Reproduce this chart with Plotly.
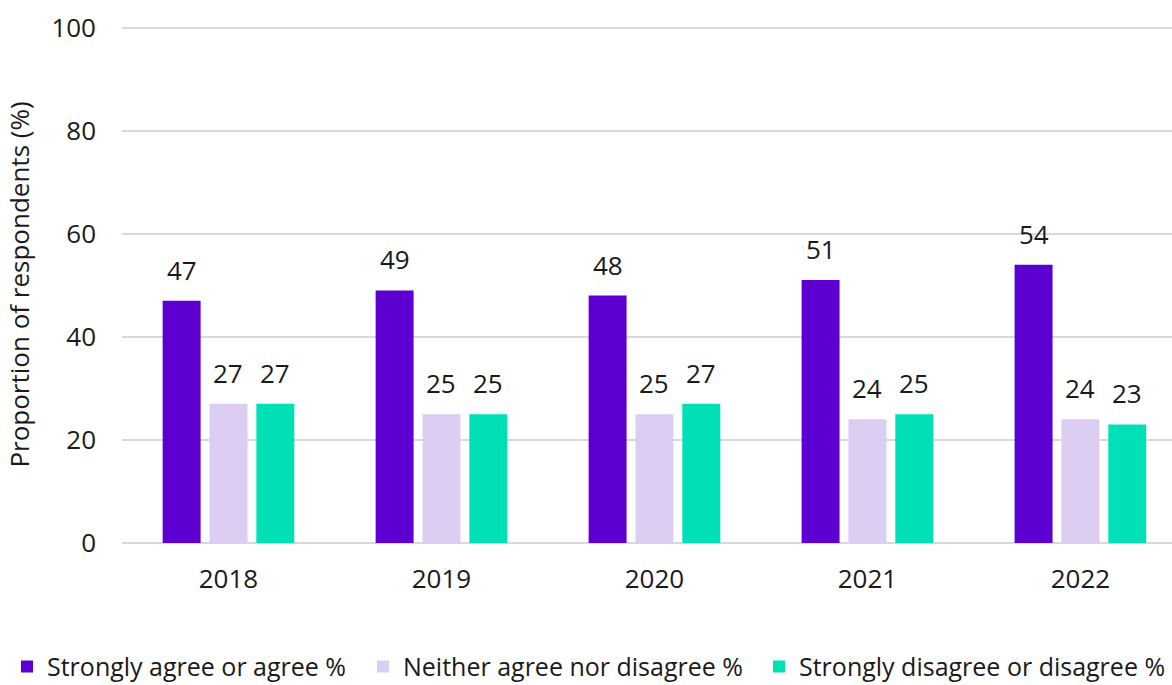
import plotly.graph_objects as go

years = ["2018", "2019", "2020", "2021", "2022"]
agree = [47, 49, 48, 51, 54]
neither = [27, 25, 25, 24, 24]
disagree = [27, 25, 27, 25, 23]

series_names = ["Strongly agree or agree %", "Neither agree nor disagree %", "Strongly disagree or disagree %"]
colors = ["#5c00d2", "#dccdf2", "#00e0b7"]
series = [agree, neither, disagree]

FONT = "Open Sans"
TXT = "#1a1a1a"
bargap = 0.34
groupgap = 0.19
L, R, T, B, W, H = 122, 0, 26, 142, 1172, 685
plot_w = W - L - R

fig = go.Figure()
legend_ids = ["legend", "legend2", "legend3"]
legend_px = [7, 363, 759]
for name, vals, col, lid in zip(series_names, series, colors, legend_ids):
    fig.add_trace(go.Bar(x=years, y=vals, name=name, marker_color=col, marker_line_width=0, legend=lid))

slot = (1 - bargap) / 3
annotations = []
for i, vals in enumerate(series):
    off = (i - 1) * slot
    for j, v in enumerate(vals):
        annotations.append(dict(x=j + off, y=v, xref="x", yref="y", text=str(v), showarrow=False,
                                yanchor="bottom", yshift=11, font=dict(size=26, color=TXT, family=FONT)))

legend_common = dict(orientation="h", xanchor="left", y=-0.195, yanchor="top",
                     font=dict(size=25, family=FONT, color=TXT), bgcolor="rgba(0,0,0,0)")
layout_legends = {}
for lid, px in zip(legend_ids, legend_px):
    layout_legends[lid] = dict(x=(px - L) / plot_w, **legend_common)

fig.update_layout(
    width=W, height=H,
    margin=dict(l=L, r=R, t=T, b=B, autoexpand=False),
    paper_bgcolor="white", plot_bgcolor="white",
    barmode="group", bargap=bargap, bargroupgap=groupgap,
    font=dict(family=FONT, size=26, color=TXT),
    annotations=annotations,
    showlegend=True,
    **layout_legends,
)
fig.update_xaxes(type="category", range=[-0.5, 4.43], showgrid=False, showline=False, ticks="",
                 tickfont=dict(size=26), ticklabelstandoff=18)
fig.update_yaxes(range=[0, 100.3], tickvals=[0, 20, 40, 60, 80, 100], showgrid=True, gridcolor="#d9d9d9", gridwidth=1.5,
                 zeroline=True, zerolinecolor="#d9d9d9", zerolinewidth=1.5, tickfont=dict(size=26),
                 ticklabelstandoff=25,
                 title=dict(text="Proportion of respondents (%)", font=dict(size=26), standoff=14))

fig.write_html("out.html")
